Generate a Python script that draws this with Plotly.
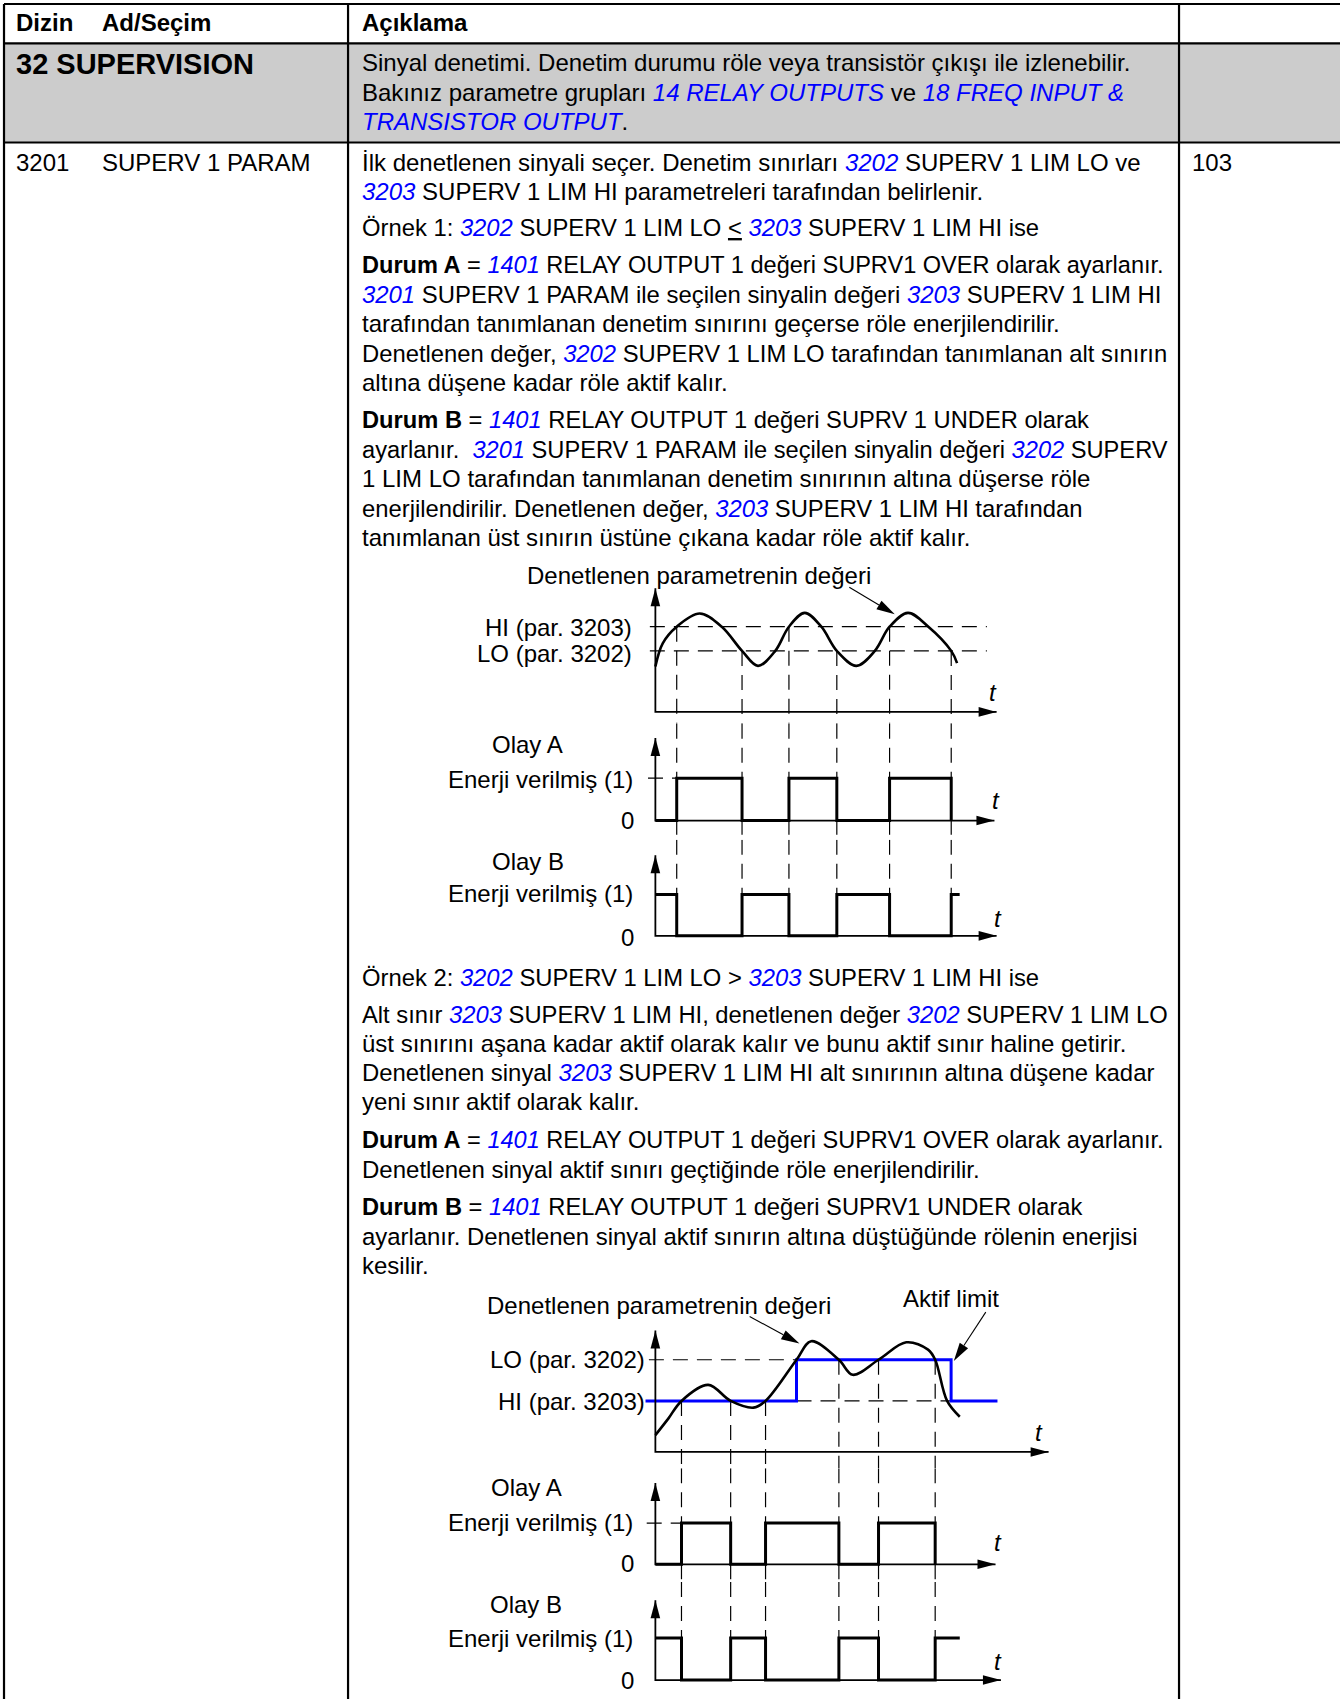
import math
import plotly.graph_objects as go

# ---------------- data ----------------
# Example 1 (LO < HI): supervised value over time (diagram units)
ex1_t = [0.0, 0.68, 1.97, 4.09, 6.13, 8.0, 9.47, 11.07, 12.33, 13.79, 15.32,
         16.75, 18.56, 20.26, 21.62, 23.32, 25.2, 27.31, 27.85]
ex1_v = [4.19, 6.33, 7.86, 9.08, 7.86, 5.63, 4.25, 5.63, 7.86, 9.14, 7.86,
         5.63, 4.25, 5.63, 7.86, 9.14, 7.86, 5.63, 4.5]
ex1_hi = 7.86
ex1_lo = 5.63
ex1_switch_t = [1.97, 8.0, 12.33, 16.75, 21.62, 27.31]
ex1_switch_lvl = ["HI", "LO", "HI", "LO", "HI", "LO"]
ex1_a_t = [0.0, 1.97, 8.0, 12.33, 16.75, 21.62, 27.31]
ex1_a_state = [0, 1, 0, 1, 0, 1, 0]
ex1_b_t = [0.0, 1.97, 8.0, 12.33, 16.75, 21.62, 27.31, 28.09]
ex1_b_state = [1, 0, 1, 0, 1, 0, 1, 1]

# Example 2 (LO > HI): supervised value, active limit
ex2_t = [0.0, 1.21, 2.41, 4.87, 6.95, 9.07, 10.17, 13.03, 14.38, 16.94, 18.22,
         20.6, 23.16, 25.17, 25.83, 26.93, 28.1]
ex2_v = [1.55, 3.1, 4.71, 6.19, 4.71, 4.09, 4.71, 8.51, 10.22, 8.51, 7.12,
         8.51, 10.12, 9.44, 8.51, 4.71, 3.25]
ex2_hi = 4.71
ex2_lo = 8.51
ex2_limit_t = [-0.91, 13.03, 27.3, 31.58]
ex2_limit_lvl = ["HI", "LO", "HI", "HI"]
ex2_switch_t = [2.41, 6.95, 10.17, 16.94, 20.6, 25.83]
ex2_switch_lvl = ["HI", "HI", "HI", "LO", "LO", "LO"]
ex2_a_t = [0.0, 2.41, 6.95, 10.17, 16.94, 20.6, 25.83]
ex2_a_state = [0, 1, 0, 1, 0, 1, 0]
ex2_b_t = [0.0, 2.41, 6.95, 10.17, 16.94, 20.6, 25.83, 28.1]
ex2_b_state = [1, 0, 1, 0, 1, 0, 1, 1]

# ---------------- page layout ----------------
W, H = 1340, 1699
PW, PH = 1237, 1568          # page drawing units
FONT = "Liberation Sans, Arial, Helvetica, sans-serif"
FS = 24
BLUE = "#0000ff"
BLACK = "#000000"

fig = go.Figure()
fig.add_trace(go.Scatter(x=[None], y=[None], xaxis="x", yaxis="y", hoverinfo="skip"))


def link(s):
    return f'<span style="color:{BLUE}"><i>{s}</i></span>'


def txt(x, y, s, size=FS, anchor="left"):
    fig.add_annotation(x=x, y=y, xref="x", yref="y", text=s, showarrow=False,
                       xanchor=anchor, yanchor="middle", borderpad=0,
                       font=dict(family=FONT, size=size, color=BLACK))


def pline(x0, y0, x1, y1, w=2.0):
    fig.add_shape(type="line", xref="x", yref="y", x0=x0, y0=y0, x1=x1, y1=y1,
                  line=dict(color=BLACK, width=w))


def pointer(x0, y0, x1, y1, L=17, hw=4.6):
    dx, dy = x1 - x0, y1 - y0
    d = math.hypot(dx, dy)
    ux, uy = dx / d, dy / d
    bx, by = x1 - L * ux, y1 - L * uy
    px, py = -uy * hw, ux * hw
    fig.add_shape(type="line", xref="x", yref="y", x0=x0, y0=y0, x1=bx, y1=by,
                  line=dict(color=BLACK, width=1.1))
    fig.add_shape(type="path", xref="x", yref="y",
                  path=f"M{x1},{y1} L{bx + px},{by + py} L{bx - px},{by - py} Z",
                  fillcolor=BLACK, line=dict(width=0))


# table
COL0, COL1, COL2 = 3.7, 321.3, 1088.4
ROW0, ROW1, ROW2 = 3.7, 40.0, 131.5
fig.add_shape(type="rect", xref="x", yref="y", x0=COL0, x1=PW + 5, y0=ROW1, y1=ROW2,
              fillcolor="#cccccc", line=dict(width=0), layer="below")
pline(COL0, ROW0, PW + 5, ROW0, 2.2)
pline(COL0, ROW1, PW + 5, ROW1, 2.2)
pline(COL0, ROW2, PW + 5, ROW2, 2.2)
pline(COL0, ROW0, COL0, PH + 5, 2.2)
pline(COL1, ROW0, COL1, PH + 5, 2.2)
pline(COL2, ROW0, COL2, PH + 5, 2.2)

# header
txt(14, 21, "<b>Dizin</b>")
txt(93, 21, "<b>Ad/Seçim</b>")
txt(333, 21, "<b>Açıklama</b>")
txt(14, 59, "<b>32 SUPERVISION</b>", size=29)
txt(333, 58, "Sinyal denetimi. Denetim durumu röle veya transistör çıkışı ile izlenebilir.")
txt(333, 85, "Bakınız parametre grupları " + link("14 RELAY OUTPUTS") + " ve " + link("18 FREQ INPUT &amp;"))
txt(333, 112, link("TRANSISTOR OUTPUT") + ".")

txt(14, 150, "3201")
txt(93, 150, "SUPERV 1 PARAM")
txt(1099, 150, "103")

body = [
    (150, "İlk denetlenen sinyali seçer. Denetim sınırları " + link("3202") + " SUPERV 1 LIM LO ve", 24),
    (177, link("3203") + " SUPERV 1 LIM HI parametreleri tarafından belirlenir.", 24),
    (210, "Örnek 1: " + link("3202") + " SUPERV 1 LIM LO <u>&lt;</u> " + link("3203") + " SUPERV 1 LIM HI ise", 23.8),
    (245, "<b>Durum A</b> = " + link("1401") + " RELAY OUTPUT 1 değeri SUPRV1 OVER olarak ayarlanır.", 23.55),
    (272, link("3201") + " SUPERV 1 PARAM ile seçilen sinyalin değeri " + link("3203") + " SUPERV 1 LIM HI", 23.9),
    (299, "tarafından tanımlanan denetim sınırını geçerse röle enerjilendirilir.", 24),
    (326, "Denetlenen değer, " + link("3202") + " SUPERV 1 LIM LO tarafından tanımlanan alt sınırın", 23.8),
    (353, "altına düşene kadar röle aktif kalır.", 24),
    (388, "<b>Durum B</b> = " + link("1401") + " RELAY OUTPUT 1 değeri SUPRV 1 UNDER olarak", 23.7),
    (415, "ayarlanır.\u00a0 " + link("3201") + " SUPERV 1 PARAM ile seçilen sinyalin değeri " + link("3202") + " SUPERV", 23.65),
    (442, "1 LIM LO tarafından tanımlanan denetim sınırının altına düşerse röle", 24),
    (469, "enerjilendirilir. Denetlenen değer, " + link("3203") + " SUPERV 1 LIM HI tarafından", 23.8),
    (496, "tanımlanan üst sınırın üstüne çıkana kadar röle aktif kalır.", 24),
    (902, "Örnek 2: " + link("3202") + " SUPERV 1 LIM LO &gt; " + link("3203") + " SUPERV 1 LIM HI ise", 23.8),
    (936, "Alt sınır " + link("3203") + " SUPERV 1 LIM HI, denetlenen değer " + link("3202") + " SUPERV 1 LIM LO", 23.75),
    (963, "üst sınırını aşana kadar aktif olarak kalır ve bunu aktif sınır haline getirir.", 24),
    (990, "Denetlenen sinyal " + link("3203") + " SUPERV 1 LIM HI alt sınırının altına düşene kadar", 23.9),
    (1017, "yeni sınır aktif olarak kalır.", 24),
    (1052, "<b>Durum A</b> = " + link("1401") + " RELAY OUTPUT 1 değeri SUPRV1 OVER olarak ayarlanır.", 23.55),
    (1079, "Denetlenen sinyal aktif sınırı geçtiğinde röle enerjilendirilir.", 24),
    (1114, "<b>Durum B</b> = " + link("1401") + " RELAY OUTPUT 1 değeri SUPRV1 UNDER olarak", 23.7),
    (1141, "ayarlanır. Denetlenen sinyal aktif sınırın altına düştüğünde rölenin enerjisi", 23.9),
    (1168, "kesilir.", 24),
]
for y, s, fs in body:
    txt(333, y, s, size=fs)

# ---------------- diagram panels ----------------
X_LEFT, X_RIGHT, T0, T1 = 560, 1000, -4.5, 39.5
panels = {   # page top/bottom, page y of value 0, page units per value unit
    "d1_top": dict(ax="y2", top=540, bottom=668, base=657.0, unit=10.0),
    "d1_a": dict(ax="y3", top=668, bottom=775, base=757.3, unit=39.1),
    "d1_b": dict(ax="y4", top=775, bottom=880, base=863.7, unit=38.2),
    "d2_top": dict(ax="y5", top=1205, bottom=1355, base=1340.0, unit=10.0),
    "d2_a": dict(ax="y6", top=1355, bottom=1460, base=1443.7, unit=38.1),
    "d2_b": dict(ax="y7", top=1460, bottom=PH, base=1550.5, unit=38.7),
}
layout_axes = {}
for name, p in panels.items():
    p["r0"] = (p["base"] - p["bottom"]) / p["unit"]
    p["r1"] = (p["base"] - p["top"]) / p["unit"]
    key = "yaxis" + p["ax"][1:]
    layout_axes[key] = dict(domain=[1 - p["bottom"] / PH, 1 - p["top"] / PH],
                            range=[p["r0"], p["r1"]], anchor="x2", visible=False,
                            fixedrange=True)


def tr(panel, x, y, color=BLACK, width=2.6, shape="linear", dash=None):
    fig.add_trace(go.Scatter(x=x, y=y, xaxis="x2", yaxis=panels[panel]["ax"],
                             mode="lines", hoverinfo="skip",
                             line=dict(color=color, width=width, shape=shape,
                                       dash=dash, smoothing=1.0)))


DASH = "15px,9px"


def axes(panel, ytip, xtip):
    ya = panels[panel]["ax"]
    tr(panel, [0, 0, xtip], [ytip, 0, 0], width=1.8)
    fig.add_shape(type="path", xref="x2", yref=ya, xsizemode="pixel", ysizemode="pixel",
                  xanchor=0, yanchor=ytip, path="M0,0 L-4.8,-18 L4.8,-18 Z",
                  fillcolor=BLACK, line=dict(width=0))
    fig.add_shape(type="path", xref="x2", yref=ya, xsizemode="pixel", ysizemode="pixel",
                  xanchor=xtip, yanchor=0, path="M0,0 L-18,4.8 L-18,-4.8 Z",
                  fillcolor=BLACK, line=dict(width=0))


def verticals(prefix, times, lvls, hi, lo):
    top, pa, pb = panels[prefix + "_top"], panels[prefix + "_a"], panels[prefix + "_b"]
    xs, ys = [], []
    for t, l in zip(times, lvls):
        xs += [t, t, None]
        ys += [hi if l == "HI" else lo, top["r0"], None]
    tr(prefix + "_top", xs, ys, width=1.2, dash=DASH)
    xs, ys = [], []
    for t in times:
        xs += [t, t, None]
        ys += [pa["r1"], pa["r0"], None]
    tr(prefix + "_a", xs, ys, width=1.2, dash=DASH)
    xs, ys = [], []
    for t in times:
        xs += [t, t, None]
        ys += [pb["r1"], 0, None]
    tr(prefix + "_b", xs, ys, width=1.2, dash=DASH)


# ---- diagram 1
verticals("d1", ex1_switch_t, ex1_switch_lvl, ex1_hi, ex1_lo)
tr("d1_top", [-0.51, 30.6], [ex1_hi, ex1_hi], width=1.2, dash=DASH)
tr("d1_top", [-0.51, 30.6], [ex1_lo, ex1_lo], width=1.2, dash=DASH)
tr("d1_top", ex1_t, ex1_v, width=2.6, shape="spline")
tr("d1_a", [-0.68, ex1_a_t[1]], [1, 1], width=1.2, dash=DASH)
tr("d1_a", ex1_a_t, ex1_a_state, width=3.0, shape="hv")
tr("d1_b", ex1_b_t, ex1_b_state, width=3.0, shape="hv")
axes("d1_top", 11.4, 31.5)
axes("d1_a", 1.95, 31.3)
axes("d1_b", 1.95, 31.5)

txt(645, 531, "Denetlenen parametrenin değeri", anchor="center")
pointer(784, 542, 826, 567)
txt(584, 579, "HI (par. 3203)", anchor="right")
txt(584, 603, "LO (par. 3202)", anchor="right")
txt(916.5, 639, "<i>t</i>", anchor="center")
txt(487, 687, "Olay A", anchor="center")
txt(585, 719, "Enerji verilmiş (1)", anchor="right")
txt(579, 757, "0", anchor="center")
txt(919, 739, "<i>t</i>", anchor="center")
txt(487, 795, "Olay B", anchor="center")
txt(585, 825, "Enerji verilmiş (1)", anchor="right")
txt(579, 865, "0", anchor="center")
txt(921, 848, "<i>t</i>", anchor="center")

# ---- diagram 2
verticals("d2", ex2_switch_t, ex2_switch_lvl, ex2_hi, ex2_lo)
tr("d2_top", [-0.6, ex2_limit_t[1]], [ex2_lo, ex2_lo], width=1.2, dash=DASH)
tr("d2_top", [ex2_limit_t[1], ex2_limit_t[2]], [ex2_hi, ex2_hi], width=1.2, dash=DASH)
tr("d2_top", ex2_limit_t, [ex2_hi if l == "HI" else ex2_lo for l in ex2_limit_lvl],
   color=BLUE, width=3.0, shape="hv")
tr("d2_top", ex2_t, ex2_v, width=2.6, shape="spline")
tr("d2_a", [-0.8, ex2_a_t[1]], [1, 1], width=1.2, dash=DASH)
tr("d2_a", ex2_a_t, ex2_a_state, width=3.0, shape="hv")
tr("d2_b", ex2_b_t, ex2_b_state, width=3.0, shape="hv")
axes("d2_top", 11.2, 36.3)
axes("d2_a", 1.97, 31.4)
axes("d2_b", 1.9, 31.9)

txt(608, 1205, "Denetlenen parametrenin değeri", anchor="center")
txt(878, 1198, "Aktif limit", anchor="center")
pointer(692, 1215, 738, 1240)
pointer(910, 1211, 880.5, 1256)
txt(596, 1255, "LO (par. 3202)", anchor="right")
txt(596, 1293, "HI (par. 3203)", anchor="right")
txt(959, 1322, "<i>t</i>", anchor="center")
txt(486, 1373, "Olay A", anchor="center")
txt(585, 1405, "Enerji verilmiş (1)", anchor="right")
txt(579, 1443, "0", anchor="center")
txt(921, 1424, "<i>t</i>", anchor="center")
txt(486, 1481, "Olay B", anchor="center")
txt(585, 1512, "Enerji verilmiş (1)", anchor="right")
txt(579, 1551, "0", anchor="center")
txt(921, 1533, "<i>t</i>", anchor="center")

fig.update_layout(
    width=W, height=H, margin=dict(l=0, r=0, t=0, b=0),
    paper_bgcolor="white", plot_bgcolor="rgba(0,0,0,0)", showlegend=False,
    xaxis=dict(range=[0, PW], domain=[0, 1], visible=False, fixedrange=True),
    yaxis=dict(range=[PH, 0], domain=[0, 1], visible=False, fixedrange=True),
    xaxis2=dict(range=[T0, T1], domain=[X_LEFT / PW, X_RIGHT / PW], anchor="y2",
                visible=False, fixedrange=True),
    **layout_axes,
)
fig.write_html("out.html", config={"displayModeBar": False},
               post_script="document.body.style.margin='0';document.body.style.overflow='hidden';")
